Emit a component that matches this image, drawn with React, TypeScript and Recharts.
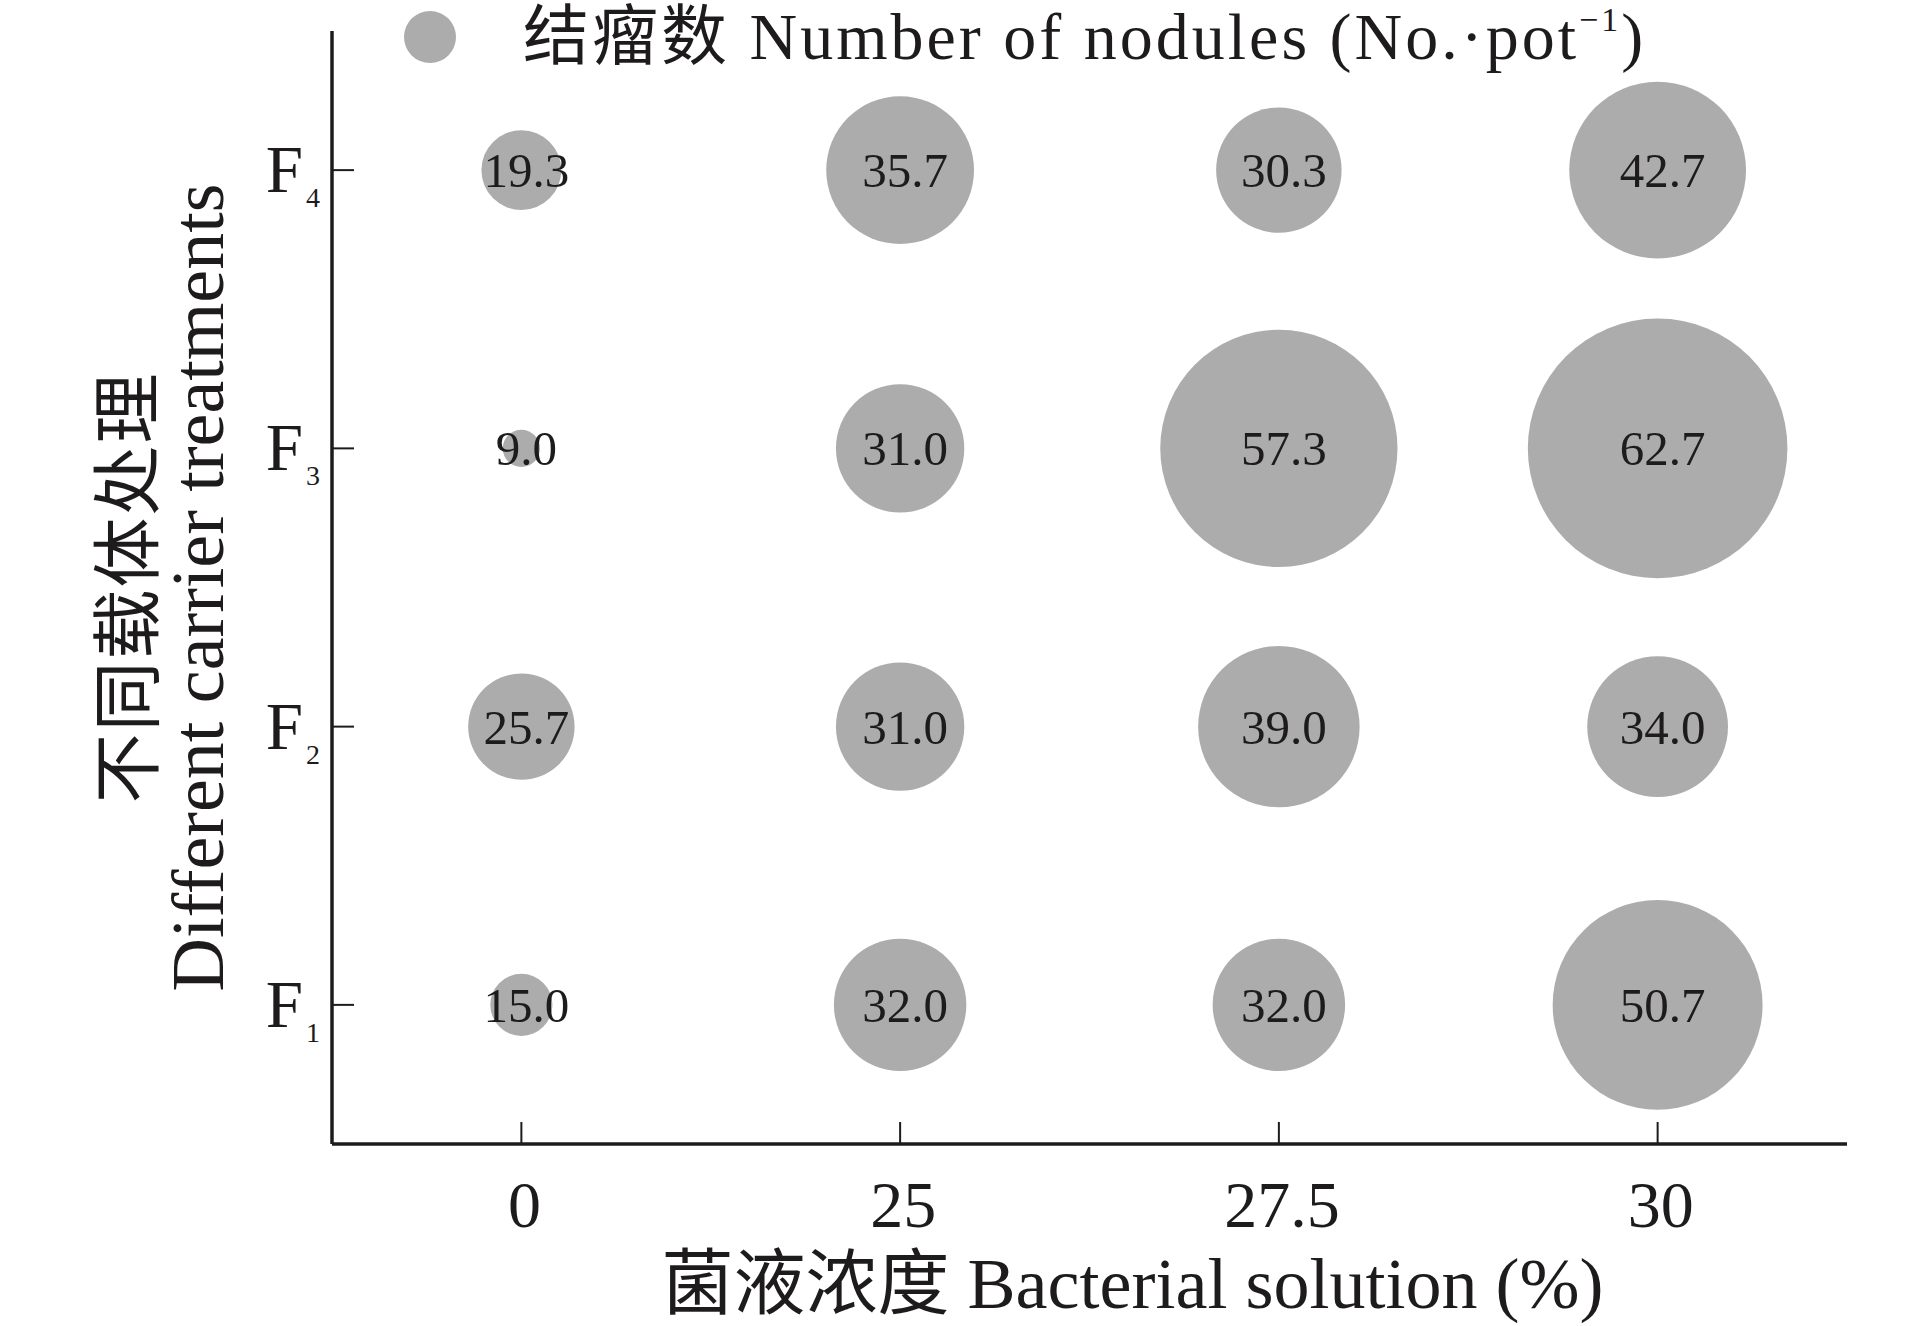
import { ScatterChart, Scatter, XAxis, YAxis, Legend } from "recharts";

const concentrations = ["0", "25", "27.5", "30"];
const treatments = ["F1", "F2", "F3", "F4"];

// nodules per pot, one array per treatment, in concentration order
const f1Nodules = [15.0, 32.0, 32.0, 50.7];
const f2Nodules = [25.7, 31.0, 39.0, 34.0];
const f3Nodules = [9.0, 31.0, 57.3, 62.7];
const f4Nodules = [19.3, 35.7, 30.3, 42.7];

const nodulesByTreatment = [f1Nodules, f2Nodules, f3Nodules, f4Nodules];

const points = nodulesByTreatment.flatMap((row, ti) =>
  row.map((value, ci) => ({ xi: ci, yi: ti + 1, value }))
);

const SERIF = '"Liberation Serif", "Times New Roman", "Noto Sans CJK SC", serif';
const INK = "#1e1b1c";
const BUBBLE = "#acacac";
const RADIUS_PER_UNIT = 2.07;

const Bubble = (props: any) => {
  const { cx, cy, payload } = props;
  const r = RADIUS_PER_UNIT * payload.value;
  return (
    <g>
      <circle cx={cx} cy={cy} r={r} fill={BUBBLE} />
      <text
        x={cx + 5}
        y={cy + 17}
        textAnchor="middle"
        fontFamily={SERIF}
        fontSize={49}
        fill={INK}
      >
        {payload.value.toFixed(1)}
      </text>
    </g>
  );
};

const TreatmentTick = (props: any) => {
  const { x, y, payload } = props;
  const name = treatments[payload.value - 1];
  return (
    <text x={x} y={y + 22} textAnchor="end" fontFamily={SERIF} fill={INK} fontSize={67}>
      {name.slice(0, 1)}
      <tspan fontSize={28} dy={15} dx={3}>
        {name.slice(1)}
      </tspan>
    </text>
  );
};

const XTitle = (props: any) => {
  const { viewBox } = props;
  const cx = viewBox.x + viewBox.width / 2 + 43;
  return (
    <text
      x={cx}
      y={viewBox.y + viewBox.height - 18}
      textAnchor="middle"
      fontFamily={SERIF}
      fontSize={72}
      fill={INK}
    >
      菌液浓度 Bacterial solution (%)
    </text>
  );
};

const YTitle = (props: any) => {
  const { viewBox } = props;
  const cy = viewBox.y + viewBox.height / 2;
  return (
    <g>
      <text
        transform={`translate(153, ${cy}) rotate(-90)`}
        textAnchor="middle"
        fontFamily={SERIF}
        fontSize={70}
        fill={INK}
        letterSpacing={2}
      >
        不同载体处理
      </text>
      <text
        transform={`translate(223, ${cy}) rotate(-90)`}
        textAnchor="middle"
        fontFamily={SERIF}
        fontSize={74}
        fill={INK}
      >
        Different carrier treatments
      </text>
    </g>
  );
};

const LegendBox = () => (
  <svg width={1915} height={90} style={{ display: "block" }}>
    <circle cx={430} cy={37} r={26} fill={BUBBLE} />
    <text x={523} y={59} fontFamily={SERIF} fontSize={66} fill={INK} letterSpacing={3}>
      结瘤数 Number of nodules (No.·pot
      <tspan fontSize={34} dy={-28}>
        −1
      </tspan>
      <tspan dy={28}>)</tspan>
    </text>
  </svg>
);

export default function App() {
  return (
    <div style={{ position: "absolute", left: 0, top: 0, background: "#fff" }}>
      <ScatterChart
        width={1915}
        height={1326}
        margin={{ top: 31, right: 68, bottom: 0, left: 0 }}
      >
        <XAxis
          type="number"
          dataKey="xi"
          domain={[-0.5, 3.5]}
          ticks={[0, 1, 2, 3]}
          tickFormatter={(i: number) => concentrations[i]}
          height={182}
          stroke={INK}
          axisLine={{ stroke: INK, strokeWidth: 3.5 }}
          tickLine={{ stroke: INK, strokeWidth: 2 }}
          tickSize={-22}
          tickMargin={58}
          tick={{ fill: INK, fontSize: 66, fontFamily: SERIF, dx: 3 }}
          label={<XTitle />}
        />
        <YAxis
          type="number"
          dataKey="yi"
          domain={[0.5, 4.5]}
          ticks={[1, 2, 3, 4]}
          width={332}
          axisLine={{ stroke: INK, strokeWidth: 3.5 }}
          tickLine={{ stroke: INK, strokeWidth: 2 }}
          tickSize={-22}
          tickMargin={34}
          tick={<TreatmentTick />}
          label={<YTitle />}
        />
        <Legend
          layout="horizontal"
          verticalAlign="middle"
          align="center"
          content={<LegendBox />}
          wrapperStyle={{ position: "absolute", top: 0, left: 0, width: 1915, height: 90, margin: 0 }}
        />
        <Scatter data={points} shape={<Bubble />} isAnimationActive={false} />
      </ScatterChart>
    </div>
  );
}
